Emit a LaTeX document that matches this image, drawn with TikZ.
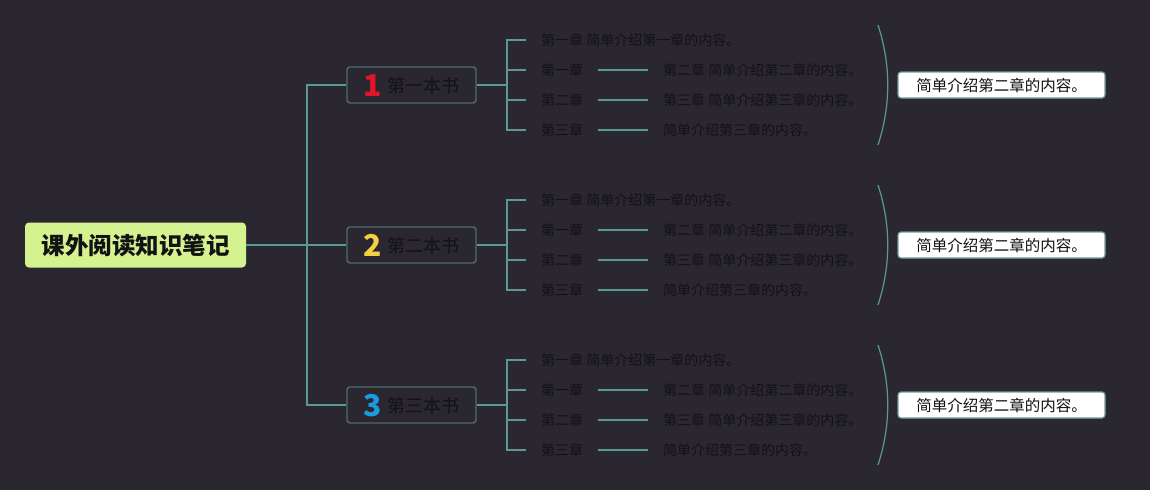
\documentclass[tikz,border=0pt]{standalone}
\usepackage{fontspec}
\setmainfont{Noto Sans CJK SC}
\usepackage{tikz}
\usepackage{color}

\definecolor{bgcol}{HTML}{2B2730}
\definecolor{linecol}{HTML}{5B9A94}
\definecolor{bookline}{HTML}{4D6C6A}
\definecolor{notecol}{HTML}{6E9E9B}
\definecolor{rootfill}{HTML}{D5F291}
\definecolor{inkcol}{HTML}{121212}
\definecolor{numred}{HTML}{E3152B}
\definecolor{numyellow}{HTML}{F2D043}
\definecolor{numblue}{HTML}{1C9BE0}

\newcommand\booknum[2]{\raisebox{-4pt}{\fontsize{30}{32}\selectfont\bfseries\color{#1}#2}\hspace{6pt}}

\begin{document}
\begin{tikzpicture}[x=1pt, y=-1pt,
	link/.style={draw=linecol, line width=1.6pt},
	rootbox/.style={fill=rootfill, rounded corners=4pt, minimum width=221pt, minimum height=45pt, inner sep=0pt, font=\fontsize{23.5}{24}\selectfont\bfseries, text height=20pt, text depth=2pt, text=inkcol},
	bookbox/.style={draw=bookline, line width=1.4pt, fill=bgcol, rounded corners=3pt, minimum width=129pt, minimum height=36pt, inner sep=0pt, font=\fontsize{18}{20}\selectfont, text height=16pt, text depth=2pt, text=inkcol},
	chap/.style={anchor=west, inner xsep=15pt, inner ysep=0pt, font=\fontsize{14}{16}\selectfont, text height=12pt, text depth=1.5pt, text=inkcol},
	notebox/.style={draw=notecol, line width=1.2pt, fill=white, rounded corners=3pt, minimum width=207pt, minimum height=26pt, inner sep=0pt, font=\fontsize{15.5}{17}\selectfont, text height=14pt, text depth=2pt, text=inkcol},
	bracket/.style={draw=linecol, line width=1.2pt}]
				\fill[bgcol] (0, 0) rectangle (1150, 490);
				\useasboundingbox (0, 0) rectangle (1150, 490);
				% root and books
				\node[rootbox] (root)at(135.5, 245) {课外阅读知识笔记};
				\node[bookbox] (B1)at(411.5, 85) {\booknum{numred}{1}第一本书};
				\node[bookbox] (B2)at(411.5, 245) {\booknum{numyellow}{2}第二本书};
				\node[bookbox] (B3)at(411.5, 405) {\booknum{numblue}{3}第三本书};
				\coordinate (RJ)at(307, 245);
				\draw[link] (root) -- (RJ);
				\draw[link] (RJ) |- (B1.west);
				\draw[link] (RJ) |- (B2.west);
				\draw[link] (RJ) |- (B3.west);
				% first book
				\node[chap] (C11)at(526, 40) {第一章 简单介绍第一章的内容。};
				\node[chap] (C12)at(526, 70) {第一章};
				\node[chap] (C13)at(526, 100) {第二章};
				\node[chap] (C14)at(526, 130) {第三章};
				\node[chap] (D12)at(648, 70) {第二章 简单介绍第二章的内容。};
				\node[chap] (D13)at(648, 100) {第三章 简单介绍第三章的内容。};
				\node[chap] (D14)at(648, 130) {简单介绍第三章的内容。};
				\coordinate (J1)at(507, 85);
				\draw[link] (B1) -- (J1);
				\draw[link] (J1) |- (C11.west);
				\draw[link] (J1) |- (C12.west);
				\draw[link] (J1) |- (C13.west);
				\draw[link] (J1) |- (C14.west);
				\draw[link] (C12) -- (D12);
				\draw[link] (C13) -- (D13);
				\draw[link] (C14) -- (D14);
				\draw[bracket] (878, 25) .. controls (891, 65) and (891, 105) .. (878, 145);
				\node[notebox] (N1)at(1001.5, 85) {简单介绍第二章的内容。};
				% second book
				\node[chap] (C21)at(526, 200) {第一章 简单介绍第一章的内容。};
				\node[chap] (C22)at(526, 230) {第一章};
				\node[chap] (C23)at(526, 260) {第二章};
				\node[chap] (C24)at(526, 290) {第三章};
				\node[chap] (D22)at(648, 230) {第二章 简单介绍第二章的内容。};
				\node[chap] (D23)at(648, 260) {第三章 简单介绍第三章的内容。};
				\node[chap] (D24)at(648, 290) {简单介绍第三章的内容。};
				\coordinate (J2)at(507, 245);
				\draw[link] (B2) -- (J2);
				\draw[link] (J2) |- (C21.west);
				\draw[link] (J2) |- (C22.west);
				\draw[link] (J2) |- (C23.west);
				\draw[link] (J2) |- (C24.west);
				\draw[link] (C22) -- (D22);
				\draw[link] (C23) -- (D23);
				\draw[link] (C24) -- (D24);
				\draw[bracket] (878, 185) .. controls (891, 225) and (891, 265) .. (878, 305);
				\node[notebox] (N2)at(1001.5, 245) {简单介绍第二章的内容。};
				% third book
				\node[chap] (C31)at(526, 360) {第一章 简单介绍第一章的内容。};
				\node[chap] (C32)at(526, 390) {第一章};
				\node[chap] (C33)at(526, 420) {第二章};
				\node[chap] (C34)at(526, 450) {第三章};
				\node[chap] (D32)at(648, 390) {第二章 简单介绍第二章的内容。};
				\node[chap] (D33)at(648, 420) {第三章 简单介绍第三章的内容。};
				\node[chap] (D34)at(648, 450) {简单介绍第三章的内容。};
				\coordinate (J3)at(507, 405);
				\draw[link] (B3) -- (J3);
				\draw[link] (J3) |- (C31.west);
				\draw[link] (J3) |- (C32.west);
				\draw[link] (J3) |- (C33.west);
				\draw[link] (J3) |- (C34.west);
				\draw[link] (C32) -- (D32);
				\draw[link] (C33) -- (D33);
				\draw[link] (C34) -- (D34);
				\draw[bracket] (878, 345) .. controls (891, 385) and (891, 425) .. (878, 465);
				\node[notebox] (N3)at(1001.5, 405) {简单介绍第二章的内容。};
			\end{tikzpicture}
\end{document}
